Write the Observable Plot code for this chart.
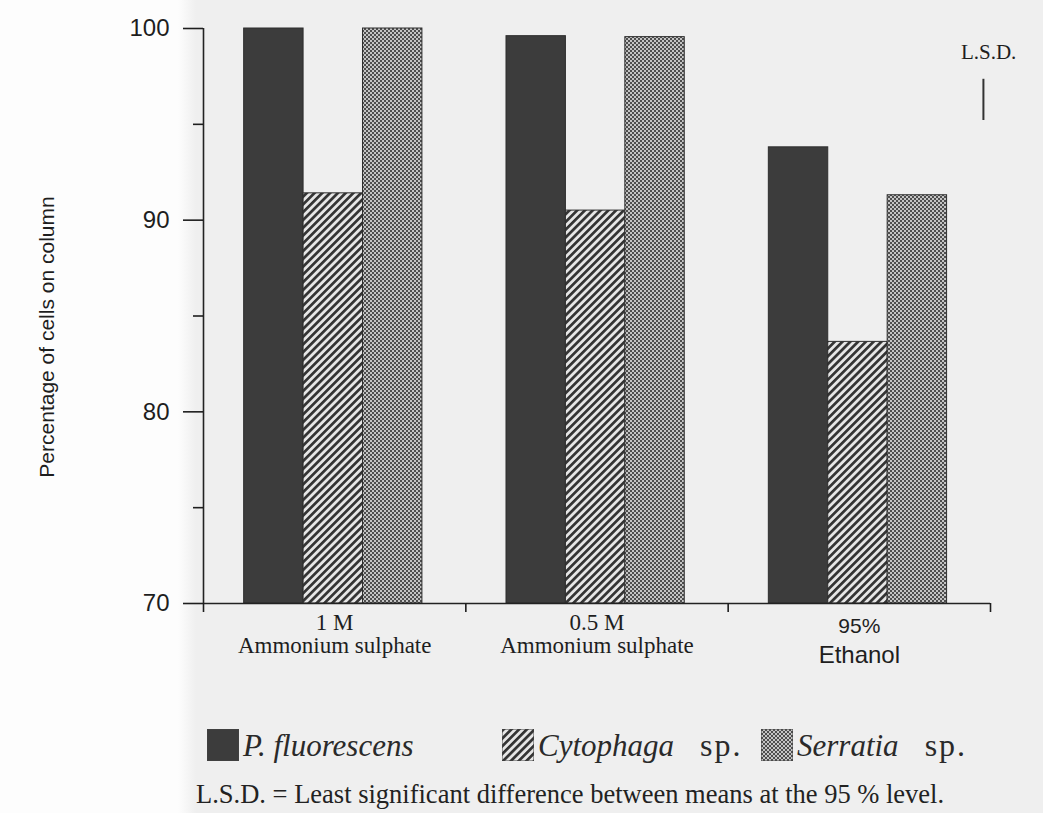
<!DOCTYPE html>
<html>
<head>
<meta charset="utf-8">
<script src="https://cdn.jsdelivr.net/npm/d3@7"></script>
<script src="https://cdn.jsdelivr.net/npm/@observablehq/plot@0.6"></script>
<style>
  html, body { margin: 0; padding: 0; background: #fff; }
  #wrap { position: relative; width: 1043px; height: 813px; overflow: hidden;
    background: linear-gradient(to right, #fdfdfd 0, #fdfdfd 178px, #efefef 196px, #efefef 100%); }
  #chart { position: absolute; left: 0; top: 0; }
  .sw { position: absolute; width: 32px; height: 32px; top: 729px; }
  .lt { position: absolute; top: 730px; font-family: "Liberation Serif", "Times New Roman", serif;
    font-size: 31px; line-height: 31px; color: #2a2a2a; white-space: nowrap; }
  .lt i { font-style: italic; }
  .lt .sp { margin-left: 26px; font-style: normal; font-size: 32px; letter-spacing: 2px; }
  #caption { position: absolute; left: 196px; top: 781px; font-family: "Liberation Serif", "Times New Roman", serif;
    font-size: 26.5px; line-height: 26.5px; color: #222; white-space: nowrap; }
</style>
</head>
<body>
<div id="wrap">
  <div id="chart"></div>
  <div id="legend"></div>
  <div id="caption"></div>
</div>
<script>
// ---- data ----
const categories = ["1 M Ammonium sulphate", "0.5 M Ammonium sulphate", "95% Ethanol"];
const labelLine1 = ["1 M", "0.5 M", "95%"];
const labelLine2 = ["Ammonium sulphate", "Ammonium sulphate", "Ethanol"];
const speciesItalic = ["P. fluorescens", "Cytophaga", "Serratia"];
const speciesSuffix = ["", "sp.", "sp."];
const pFluorescens = [100, 99.6, 93.8];
const cytophaga = [91.4, 90.5, 83.65];
const serratia = [100, 99.55, 91.3];
const yTicksMajor = [70, 80, 90, 100];
const yTicksMinor = [75, 85, 95];
const lsdRange = [95.2, 97.35];
const yLabel = "Percentage of cells on column";
const lsdLabel = "L.S.D.";
const captionText = "L.S.D. = Least significant difference between means at the 95 % level.";

// ---- build table ----
const seriesValues = [pFluorescens, cytophaga, serratia];
const rows = [];
categories.forEach((c, gi) => {
  seriesValues.forEach((vals, si) => {
    rows.push({category: c, gi, si, value: vals[gi]});
  });
});

const fills = ["#3c3c3c", "url(#hatch)", "url(#dots)"];
const groupInset = 0.155, barW = 0.2265;
const xMax = categories.length;
const lsdX = xMax - 0.027;

const serif = "Liberation Serif, Times New Roman, serif";
const sans = "Liberation Sans, Arial, Helvetica, sans-serif";

const labelRows = categories.map((c, gi) => ({gi, l1: labelLine1[gi], l2: labelLine2[gi], both: labelLine1[gi] + "\n" + labelLine2[gi], sansFont: c.includes("Ethanol")}));

const chart = Plot.plot({
  width: 1043,
  height: 700,
  marginTop: 28,
  marginBottom: 97,
  marginLeft: 203,
  marginRight: 53,
  style: {background: "transparent", color: "#1e1e1e", fontFamily: sans},
  x: {domain: [0, xMax], axis: null},
  y: {domain: [70, 100], axis: null},
  marks: [
    ...seriesValues.map((_, si) => Plot.rectY(rows.filter(r => r.si === si), {
      x1: d => d.gi + groupInset + d.si * barW,
      x2: d => d.gi + groupInset + (d.si + 1) * barW,
      y1: 70,
      y2: "value",
      fill: fills[si],
      stroke: "#2e2e2e",
      strokeWidth: 1
    })),
    Plot.ruleX([0], {y1: 70, y2: 100, stroke: "#222", strokeWidth: 1.6}),
    Plot.ruleY([70], {x1: 0, x2: xMax, stroke: "#222", strokeWidth: 1.6}),
    Plot.axisY(yTicksMajor, {tickSize: 20, tickPadding: 14, fontSize: 24, fontFamily: sans, label: null, strokeWidth: 1.6}),
    Plot.axisY(yTicksMinor, {tickSize: 10, tickFormat: () => "", label: null, strokeWidth: 1.6}),
    Plot.axisX([0, 1, 2, 3], {tickSize: 9, tickFormat: () => "", label: null, strokeWidth: 1.6}),
    // category labels
    Plot.text(labelRows.filter(d => !d.sansFont), {x: d => d.gi + 0.5, y: 70, text: "both", dy: 10.5, fontSize: 23, lineHeight: 1, fontFamily: serif, lineAnchor: "top"}),
    Plot.text(labelRows.filter(d => d.sansFont), {x: d => d.gi + 0.5, y: 70, text: "l1", dy: 23, fontSize: 21, fontFamily: sans, lineAnchor: "middle"}),
    Plot.text(labelRows.filter(d => d.sansFont), {x: d => d.gi + 0.5, y: 70, text: "l2", dy: 52, fontSize: 24, fontFamily: sans, lineAnchor: "middle"}),
    // LSD marker
    Plot.ruleX([lsdX], {y1: lsdRange[0], y2: lsdRange[1], stroke: "#333", strokeWidth: 2}),
    Plot.text([lsdLabel], {x: lsdX + 0.02, y: lsdRange[1], dy: -27, fontSize: 21, fontFamily: serif, lineAnchor: "middle"}),
    // y label
    Plot.text([yLabel], {frameAnchor: "left", rotate: -90, dx: -156, dy: 21, fontSize: 21, fontFamily: sans, textAnchor: "middle"})
  ]
});

// patterns
const defs = d3.select(chart).insert("defs", ":first-child");
const hatch = defs.append("pattern").attr("id", "hatch").attr("patternUnits", "userSpaceOnUse")
  .attr("width", 5.5).attr("height", 5.5).attr("patternTransform", "rotate(45)");
hatch.append("rect").attr("width", 5.5).attr("height", 5.5).attr("fill", "#e6e6e6");
hatch.append("rect").attr("width", 2.7).attr("height", 5.5).attr("fill", "#333");
const dots = defs.append("pattern").attr("id", "dots").attr("patternUnits", "userSpaceOnUse")
  .attr("width", 4).attr("height", 4);
dots.append("rect").attr("width", 4).attr("height", 4).attr("fill", "#c4c4c4");
dots.append("rect").attr("width", 2).attr("height", 2).attr("fill", "#4e4e4e");
dots.append("rect").attr("x", 2).attr("y", 2).attr("width", 2).attr("height", 2).attr("fill", "#4e4e4e");

document.getElementById("chart").appendChild(chart);

// legend
const legend = document.getElementById("legend");
const swLeft = [207, 502, 761];
speciesItalic.forEach((name, si) => {
  const sw = document.createElementNS("http://www.w3.org/2000/svg", "svg");
  sw.setAttribute("class", "sw");
  sw.setAttribute("width", 32); sw.setAttribute("height", 32);
  sw.style.left = swLeft[si] + "px";
  const r = document.createElementNS("http://www.w3.org/2000/svg", "rect");
  r.setAttribute("width", 32); r.setAttribute("height", 32);
  r.setAttribute("fill", fills[si]); r.setAttribute("stroke", "#444"); r.setAttribute("stroke-width", 1);
  sw.appendChild(r);
  legend.appendChild(sw);
  const t = document.createElement("div");
  t.className = "lt";
  t.style.left = (swLeft[si] + 36) + "px";
  const it = document.createElement("i");
  it.textContent = name;
  t.appendChild(it);
  if (speciesSuffix[si]) {
    const s = document.createElement("span");
    s.className = "sp";
    s.textContent = speciesSuffix[si];
    t.appendChild(s);
  }
  legend.appendChild(t);
});
document.getElementById("caption").textContent = captionText;
</script>
</body>
</html>
